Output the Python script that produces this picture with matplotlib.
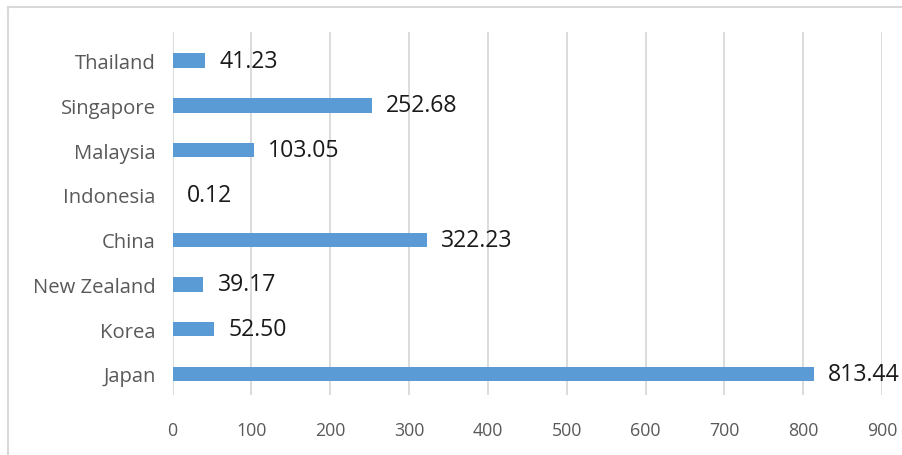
import matplotlib
matplotlib.use("Agg")
import matplotlib.pyplot as plt
from matplotlib.lines import Line2D

countries = ["Thailand", "Singapore", "Malaysia", "Indonesia", "China",
             "New Zealand", "Korea", "Japan"]
values = [41.23, 252.68, 103.05, 0.12, 322.23, 39.17, 52.50, 813.44]
x_ticks = [0, 100, 200, 300, 400, 500, 600, 700, 800, 900]

plt.rcParams["font.family"] = ["Open Sans", "DejaVu Sans"]

W, H = 902, 456
fig = plt.figure(figsize=(W / 100, H / 100), dpi=100)
fig.patch.set_facecolor("white")

# axes area in pixel coordinates
left, right, top, bottom = 172.5, 882, 33, 396
ax = fig.add_axes([left / W, 1 - bottom / H, (right - left) / W, (bottom - top) / H])

y = list(range(len(countries)))
ax.barh(y, values, height=0.32, color="#5B9BD5", zorder=3)
ax.set_xlim(0, 900)
ax.set_ylim(len(countries) - 0.53, -0.64)

ax.set_yticks(y)
ax.set_yticklabels(countries, fontsize=14.6, color="#595959")
ax.set_xticks(x_ticks)
ax.set_xticklabels([str(t) for t in x_ticks], fontsize=12.8, color="#595959")
ax.tick_params(axis="both", length=0)
ax.tick_params(axis="y", pad=12)
ax.tick_params(axis="x", pad=19)

ax.grid(axis="x", color="#D9D9D9", linewidth=1.3, zorder=0)
for s in ax.spines.values():
    s.set_visible(False)

for yi, v in zip(y, values):
    ax.annotate(f"{v:.2f}", xy=(v, yi), xytext=(10.5, 0), textcoords="offset points",
                va="center", ha="left", fontsize=16.6, color="#1a1a1a")

# light outer frame of the chart area
frame_c = "#D9D9D9"
fig.add_artist(Line2D([8 / W, 8 / W], [0, 1 - 8 / H], color=frame_c, lw=1.5))
fig.add_artist(Line2D([8 / W, 1], [1 - 8 / H, 1 - 8 / H], color=frame_c, lw=1.5))

fig.savefig("out.png", dpi=100, facecolor="white")
